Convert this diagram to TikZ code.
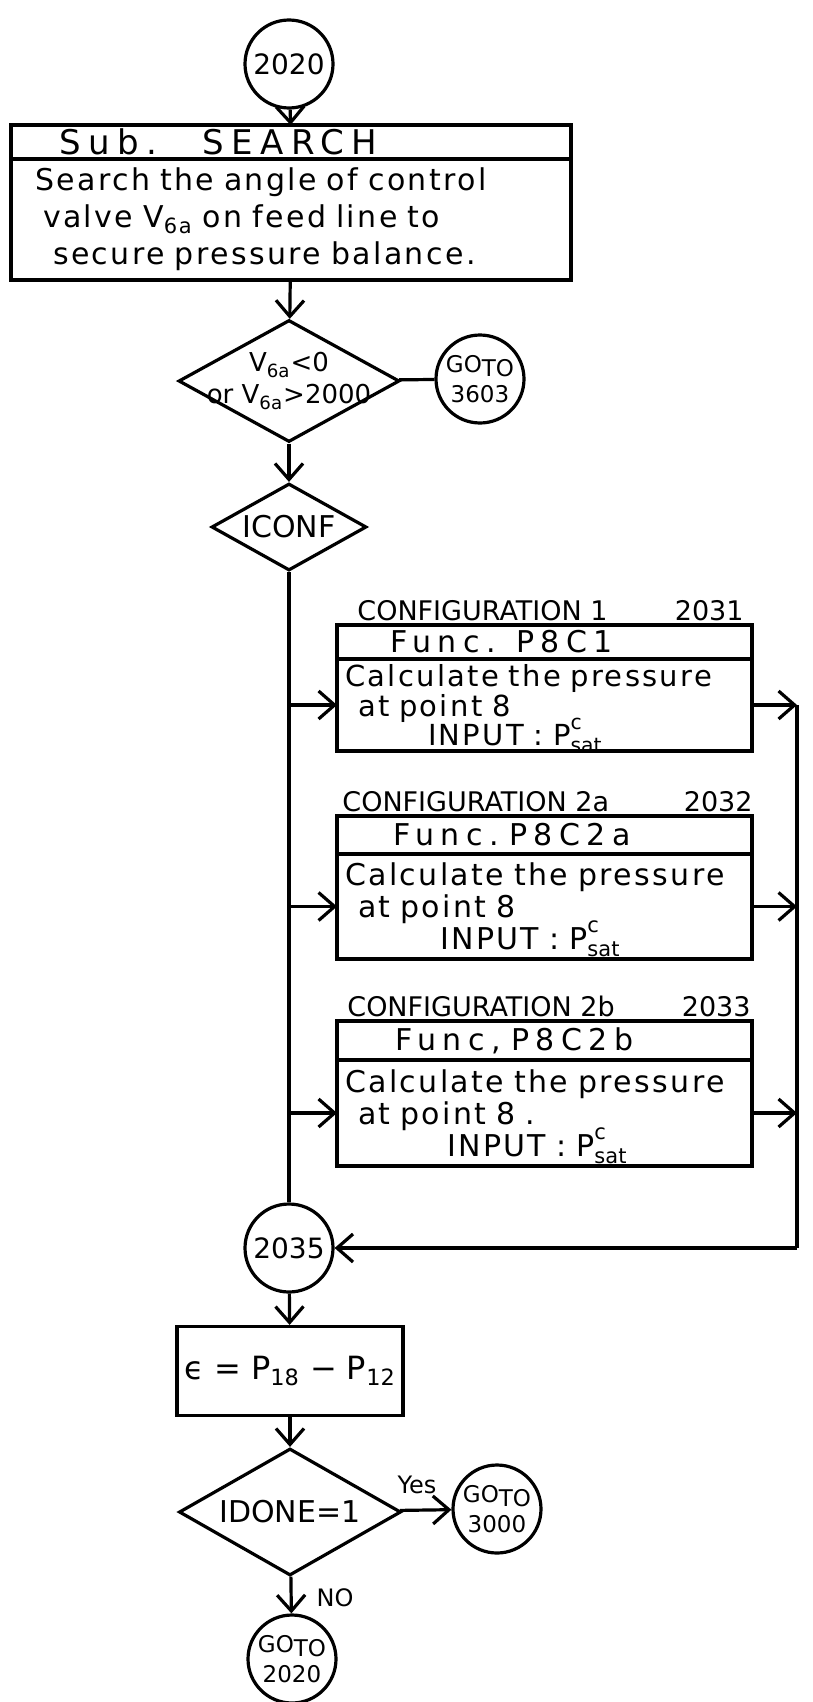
\documentclass[tikz,border=0pt]{standalone}
\usepackage{fontspec}
\setmainfont{DejaVu Sans}
\newfontfamily\hand[LetterSpace=8]{DejaVu Sans}
\newfontfamily\handwide[LetterSpace=22]{DejaVu Sans}
\usepackage{tikz}
\usetikzlibrary{positioning,arrows.meta,shapes.geometric,calc}
\newcommand{\Psatc}{\smash{$\mathrm{P}^{\mathrm{c}}_{\mathrm{sat}}$}}
\tikzset{
  flow/.style={line width=1.6pt},
  arr/.style={flow,-{Straight Barb[length=8pt,width=14pt]}},
  conn/.style={circle,draw,line width=1.6pt,inner sep=0pt,minimum size=44pt,font=\fontsize{14}{14}\selectfont},
  gotoc/.style={conn,align=center,font=\fontsize{11.5}{15}\selectfont},
  hdr/.style={draw,line width=1.6pt,outer sep=0pt,anchor=north west,inner xsep=0pt,inner ysep=0pt,align=left,
    minimum height=17pt,font=\handwide\fontsize{15}{15}\selectfont},
  bodybox/.style={draw,line width=1.6pt,outer sep=0pt,anchor=north west,inner xsep=0pt,inner ysep=0pt,align=left,
    font=\hand\fontsize{15}{16}\selectfont},
  dec/.style={diamond,draw,line width=1.6pt,inner sep=0pt},
  proc/.style={rectangle,draw,line width=1.6pt,inner sep=0pt},
  cfglbl/.style={inner sep=2pt,font=\fontsize{13.5}{13.5}\selectfont},
  lbl/.style={inner sep=1pt,font=\fontsize{12}{12}\selectfont},
}
\begin{document}
\begin{tikzpicture}[x=0.5pt,y=-0.5pt]
  \useasboundingbox (0,0) rectangle (813,1702);
  % entry and subroutine
  \node[conn] (c2020) at (289,64) {2020};
  \node[hdr,text width=280pt,font=\handwide\fontsize{17}{17}\selectfont] (hsearch) at (11,125)
    {\hspace*{24pt}Sub.\ \ \ \ SEARCH};
  \node[bodybox,text width=280pt,minimum height=60.5pt,font=\hand\fontsize{15}{18.5}\selectfont] (bsearch) at (hsearch.south west)
    {\hspace*{12pt}Search the angle of control\\
     \hspace*{16pt}valve V\textsubscript{6a} on feed line to\\
     \hspace*{21pt}secure pressure balance.};
  % checks
  \node[dec,minimum width=110.5pt,minimum height=61pt] (dv) at (289,381) {};
  \node[font=\fontsize{13}{16}\selectfont,align=center] (tv) at (dv) {V\textsubscript{6a}<0\\or V\textsubscript{6a}>2000};
  \node[gotoc] (g3603) at (480,379) {GO\raisebox{-0.35ex}{TO}\\3603};
  \node[dec,minimum width=77.5pt,minimum height=43.5pt] (diconf) at (289,527) {};
  \node[font=\fontsize{15}{15}\selectfont] (ticonf) at (diconf) {ICONF};
  % configuration 1
  \node[hdr,text width=207.5pt] (h1) at (337,625) {\hspace*{26.5pt}Func.\ \ P8C1};
  \node[bodybox,text width=207.5pt,minimum height=46pt,font=\hand\fontsize{14.5}{13}\selectfont] (b1) at (h1.south west)
    {\hspace*{4pt}Calculate the pressure\\ \hspace*{10.5pt}at point 8\\ \hspace*{45.5pt}INPUT : \Psatc};
  \node[cfglbl,anchor=south west] (l1) at ([xshift=8pt]h1.north west) {CONFIGURATION 1};
  \node[cfglbl,anchor=south east] (n1) at ([xshift=-2pt]h1.north east) {2031};
  % configuration 2a
  \node[hdr,text width=207.5pt,minimum height=19pt] (h2) at (337,816) {\hspace*{28pt}Func.\ P8C2a};
  \node[bodybox,text width=207.5pt,minimum height=52.5pt] (b2) at (h2.south west)
    {\hspace*{4pt}Calculate the pressure\\ \hspace*{10.5pt}at point 8\\ \hspace*{51.5pt}INPUT : \Psatc};
  \node[cfglbl,anchor=south west] (l2) at ([xshift=0.5pt]h2.north west) {CONFIGURATION 2a};
  \node[cfglbl,anchor=south east] (n2) at ([xshift=2.5pt]h2.north east) {2032};
  % configuration 2b
  \node[hdr,text width=207.5pt,minimum height=19.5pt] (h3) at (337,1021) {\hspace*{29pt}Func,\ P8C2b};
  \node[bodybox,text width=207.5pt,minimum height=53pt] (b3) at (h3.south west)
    {\hspace*{4pt}Calculate the pressure\\ \hspace*{10.5pt}at point 8 .\\ \hspace*{55pt}INPUT : \Psatc};
  \node[cfglbl,anchor=south west] (l3) at ([xshift=3pt]h3.north west) {CONFIGURATION 2b};
  \node[cfglbl,anchor=south east] (n3) at ([xshift=1.5pt]h3.north east) {2033};
  % join and error test
  \node[conn] (c2035) at (289,1248) {2035};
  \coordinate (rtop) at (797,705);
  \coordinate (rbot) at (797,1248);
  \node[proc,minimum width=113pt,minimum height=44.5pt,font=\fontsize{16}{16}\selectfont] (eps) at (290,1371)
    {ϵ = P\textsubscript{18} − P\textsubscript{12}};
  \node[dec,minimum width=111pt,minimum height=63.5pt] (didone) at (290,1512) {};
  \node[font=\fontsize{15}{15}\selectfont] (tidone) at (didone) {IDONE=1};
  \node[gotoc] (g3000) at (497,1509) {GO\raisebox{-0.35ex}{TO}\\3000};
  \node[gotoc] (g2020) at (292,1659) {GO\raisebox{-0.35ex}{TO}\\2020};
  \node[lbl] (yes) at (417,1485) {Yes};
  \node[lbl] (no) at (335,1598) {NO};
  % connectors
  \draw[arr] (c2020) -- (hsearch);
  \draw[arr] (bsearch) -- (dv);
  \draw[flow] (dv) -- (g3603);
  \draw[arr] (dv) -- (diconf);
  \draw[flow] (diconf.south) -- (c2035.north);
  \foreach \b in {b1,b2,b3}{
    \draw[arr] (diconf.south |- \b.west) -- (\b.west);
    \draw[arr] (\b.east) -- (\b.east -| rtop);}
  \draw[flow] (rtop) -- (rbot);
  \draw[arr] (rbot) -- (c2035);
  \draw[arr] (c2035) -- (eps);
  \draw[arr] (eps) -- (didone);
  \draw[arr] (didone) -- (g3000);
  \draw[arr] (didone) -- (g2020);
\end{tikzpicture}
\end{document}
